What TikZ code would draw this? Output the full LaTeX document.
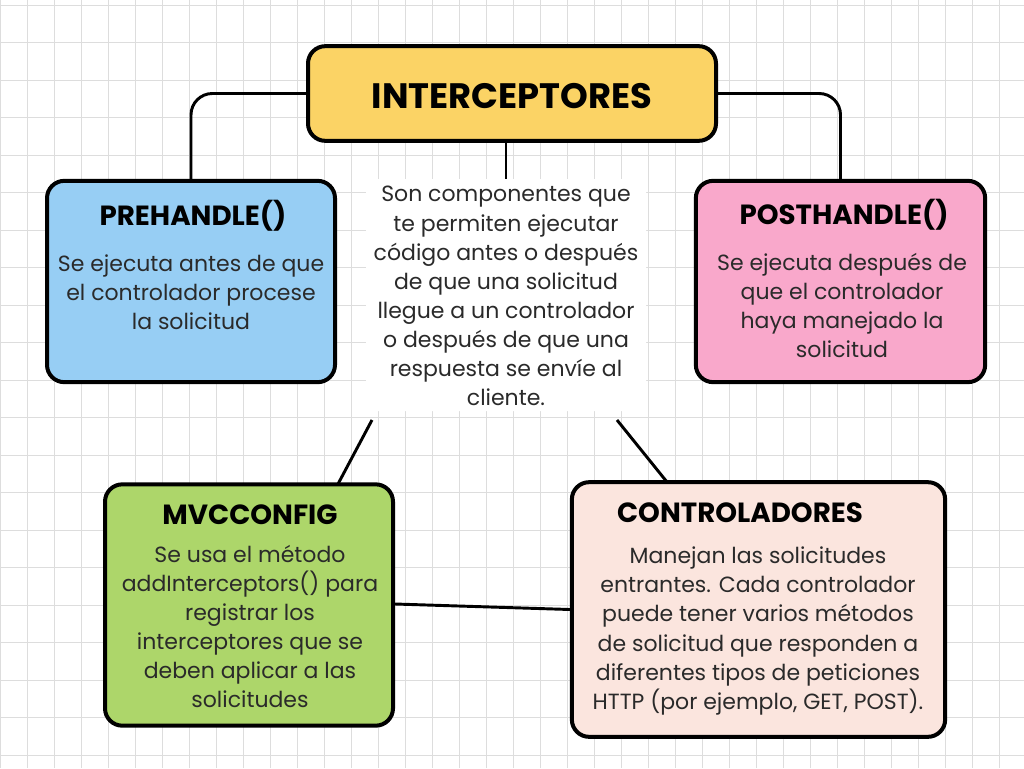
\documentclass[tikz,border=0pt]{standalone}
\usepackage{fontspec}
\setmainfont{Poppins}
\newfontfamily\headfont{Poppins}
\definecolor{ttl}{HTML}{FBD365}
\definecolor{bluebox}{HTML}{97CEF4}
\definecolor{pinkbox}{HTML}{F9A8CB}
\definecolor{greenbox}{HTML}{ADD66A}
\definecolor{peachbox}{HTML}{FBE5DE}
\definecolor{gridc}{HTML}{DDDDDD}
\definecolor{txt}{HTML}{2A2A2A}
\begin{document}
\begin{tikzpicture}[x=0.75pt,y=-0.75pt,
  box/.style={draw=black,line width=3pt,rounded corners=13pt,inner sep=0pt},
  conn/.style={draw=black,line width=2.2pt},
  head/.style={font=\headfont\bfseries\fontsize{20.8}{24}\selectfont,text=black,inner sep=0pt},
  body/.style={font=\fontsize{16.5}{21.8}\selectfont,text=txt,align=center,inner sep=0pt}]
\useasboundingbox (0,0) rectangle (1024,768);
\fill[white] (0,0) rectangle (1024,768);
\foreach \gx in {0,27,...,1024} \draw[gridc,line width=0.6pt] (\gx,0) -- (\gx,768);
\foreach \gy in {5,42.5,...,768} \draw[gridc,line width=0.6pt] (0,\gy) -- (1024,\gy);

% boxes
\node[box,fill=ttl,minimum width=306pt,minimum height=71pt] (title) at (512,93.5) {};
\node[box,fill=bluebox,minimum width=216pt,minimum height=151pt] (pre) at (191,281.5) {};
\node[box,fill=pinkbox,minimum width=217pt,minimum height=151pt] (post) at (840.5,281.5) {};
\node[box,fill=greenbox,minimum width=216pt,minimum height=181pt] (mvc) at (249,605) {};
\node[box,fill=peachbox,minimum width=280pt,minimum height=191pt] (ctrl) at (758.5,609.5) {};

% description
\node[fill=white,rounded corners=8pt,minimum width=210pt,minimum height=174pt,inner sep=0pt] (desc) at (506,295) {};
\node[body] (desctxt) at (506,296) {Son componentes que\\te permiten ejecutar\\código antes o después\\de que una solicitud\\llegue a un controlador\\o después de que una\\respuesta se envíe al\\cliente.};

% connectors
\draw[conn,rounded corners=16pt] (title.west) -| (pre.north);
\draw[conn,rounded corners=16pt] (title.east) -| (post.north);
\draw[conn] (title.south -| desc.north) -- (desc.north);
\coordinate (dl) at (372,420);
\coordinate (dr) at (617,420);
\draw[conn] (dl) -- (338,484) coordinate (mvctop);
\draw[conn] (dr) -- (667,482) coordinate (ctrltop);
\draw[conn] (mvc.east) ++(0,-1) coordinate (me) -- (ctrl.west);

% texts
\node[head,font=\headfont\bfseries\fontsize{26.5}{30}\selectfont] (titletxt) at (512,96) {INTERCEPTORES};
\node[head] (pretitle) at (193,216) {PREHANDLE()};
\node[body] (pretxt) at (191,292.5) {Se ejecuta antes de que\\el controlador procese\\la solicitud};
\node[head] (posttitle) at (844,215) {POSTHANDLE()};
\node[body] (posttxt) at (842,305.5) {Se ejecuta después de\\que el controlador\\haya manejado la\\solicitud};
\node[head] (mvctitle) at (250,515) {MVCCONFIG};
\node[body] (mvctxt) at (250,626.5) {Se usa el método\\addInterceptors() para\\registrar los\\interceptores que se\\deben aplicar a las\\solicitudes};
\node[head] (ctrltitle) at (740,513) {CONTROLADORES};
\node[body] (ctrltxt) at (758,631) {Manejan las solicitudes\\entrantes. Cada controlador\\puede tener varios métodos\\de solicitud que responden a\\diferentes tipos de peticiones\\HTTP (por ejemplo, GET, POST).};
\end{tikzpicture}
\end{document}
